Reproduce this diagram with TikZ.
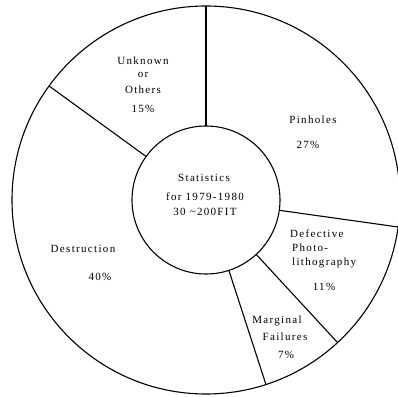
\documentclass[tikz,border=0pt]{standalone}
\usepackage{fontspec}
\setmainfont{Liberation Serif}[LetterSpace=12]
\begin{document}
\begin{tikzpicture}[x=1pt,y=1pt,
  ring/.style={line width=1.1pt},
  spoke/.style={line width=1.1pt},
  lbl/.style={font=\fontsize{11}{13}\selectfont, inner sep=0pt, anchor=center},
  lbll/.style={font=\fontsize{11}{13}\selectfont, inner sep=0pt, anchor=west}]
\useasboundingbox (0,0) rectangle (398,396);
\coordinate (C) at (206,196);
\draw[ring] (C) circle[radius=194];
\node[ring, draw, circle, minimum size=148pt, inner sep=0pt] (hub) at (C) {};
% spokes
\foreach \a/\n in {90/a,144/b,-8/c,-47.3/d,-72/e}{
  \coordinate (in\n) at ([shift={(\a:74)}]C);
  \coordinate (out\n) at ([shift={(\a:194)}]C);
  \draw[spoke] (in\n) -- (out\n);
}
% centre text
\node[lbl] (s1) at (204,218) {Statistics};
\node[lbl] (s2) at (205,199) {for 1979-1980};
\node[lbl] (s3) at (205,184) {30 \textasciitilde 200FIT};
% unknown
\node[lbl] (u1) at (143,335) {Unknown};
\node[lbl] (u2) at (143,321) {or};
\node[lbl] (u3) at (143,306) {Others};
\node[lbl] (u4) at (143,287) {15\%};
% pinholes
\node[lbl] (p1) at (313,276) {Pinholes};
\node[lbl] (p2) at (308,251) {27\%};
% defective
\node[lbll] (d1) at (290,162) {Defective};
\node[lbll] (d2) at (292,148) {Photo-};
\node[lbll] (d3) at (292,133) {lithography};
\node[lbl] (d4) at (324,109) {11\%};
% destruction
\node[lbl] (x1) at (83,147) {Destruction};
\node[lbl] (x2) at (100,119) {40\%};
% marginal
\node[lbl] (m1) at (277,75) {Marginal};
\node[lbl] (m2) at (285,59) {Failures};
\node[lbl] (m3) at (286,41) {7\%};
\end{tikzpicture}
\end{document}
